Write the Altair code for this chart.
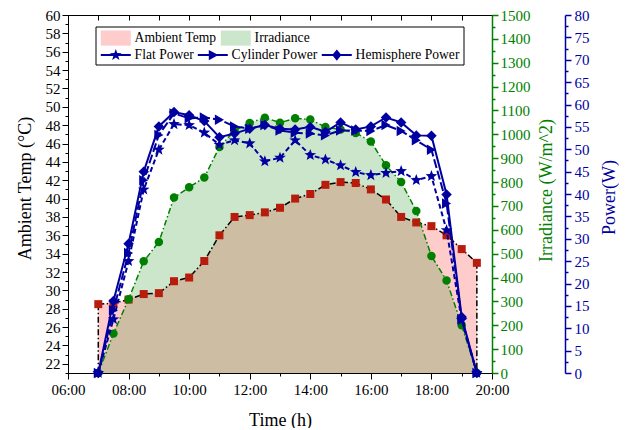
import math
import altair as alt
import pandas as pd

# ---------------- data ----------------
time_h = [7.0, 7.5, 8.0, 8.5, 9.0, 9.5, 10.0, 10.5, 11.0, 11.5, 12.0, 12.5, 13.0,
          13.5, 14.0, 14.5, 15.0, 15.5, 16.0, 16.5, 17.0, 17.5, 18.0, 18.5, 19.0, 19.5]
ambient_temp = [28.5, 28.6, 29.0, 29.6, 29.7, 31.0, 31.4, 33.2, 36.0, 38.0, 38.2, 38.5, 39.0,
                40.0, 40.5, 41.5, 41.8, 41.7, 41.0, 39.9, 38.0, 37.4, 37.0, 36.0, 34.5, 33.0]
irradiance = [0, 165, 309, 468, 549, 735, 778, 819, 947, 1015, 1048, 1070, 1049,
              1067, 1062, 1031, 1020, 1006, 970, 870, 800, 679, 490, 388, 200, 0]
flat_power = [0, 12.0, 25.0, 41.0, 49.9, 55.6, 55.4, 53.7, 51.0, 52.0, 51.3, 47.3, 48.1,
              52.0, 48.7, 47.7, 46.4, 44.9, 44.2, 44.7, 45.1, 43.1, 44.0, 31.9, 11.8, 0]
cylinder_power = [0, 14.0, 26.8, 43.1, 53.2, 58.0, 56.9, 57.1, 56.6, 55.1, 54.6, 55.4, 54.2,
                  53.7, 53.5, 53.1, 54.2, 54.2, 54.1, 55.4, 54.1, 52.0, 49.9, 37.9, 12.0, 0]
hemisphere_power = [0, 16.1, 28.9, 45.0, 55.1, 58.3, 57.6, 56.3, 52.7, 53.5, 54.6, 55.4, 54.6,
                    54.4, 55.0, 53.9, 56.0, 54.4, 55.1, 57.1, 56.0, 53.1, 53.0, 39.9, 12.5, 0]

area_labels = ["Ambient Temp", "Irradiance"]
power_labels = ["Flat Power", "Cylinder Power", "Hemisphere Power"]

x_ticks = list(range(6, 21))
temp_ticks = list(range(21, 61))
irr_ticks = list(range(0, 1501, 50))
power_ticks = [i * 2.5 for i in range(33)]

# ---------------- styles ----------------
FONT = "Liberation Serif"
GREEN = "#008000"
BLUE = "#0000a0"
DRED = "#b71c0c"


def star_path(cx, cy, ro, ri):
    pts = []
    for k in range(10):
        a = math.radians(-90 + 36 * k)
        r = ro if k % 2 == 0 else ri
        pts.append((cx + r * math.cos(a), cy + r * math.sin(a)))
    return "M" + "L".join(f"{x:.3f},{y:.3f}" for x, y in pts) + "Z"


STAR = star_path(0, 0, 1, 0.42)
cx = 2.75
SWATCH = "M-1,-1.9H6.5V1.9H-1Z"
LINE = "M-1,-0.25H6.5V0.25H-1Z"
LEG_FLAT = LINE + star_path(cx, 0, 1.55, 0.62)
LEG_CYL = LINE + f"M{cx-1.0},-1.3L{cx+1.4},0L{cx-1.0},1.3Z"
LEG_HEMI = LINE + f"M{cx},-1.4L{cx+1.15},0L{cx},1.4L{cx-1.15},0Z"

df = pd.DataFrame({
    "t": time_h, "temp": ambient_temp, "irr": irradiance,
    "flat": flat_power, "cyl": cylinder_power, "hemi": hemisphere_power,
})
ends = df.iloc[[0, len(df) - 1]]

xs = alt.Scale(domain=[6, 20], nice=False, zero=False)
temp_scale = alt.Scale(domain=[21, 60], nice=False, zero=False)
irr_scale = alt.Scale(domain=[0, 1500], nice=False)
pow_scale = alt.Scale(domain=[0, 80], nice=False)

major_minor = lambda test: {"condition": {"test": test, "value": 6}, "value": 3}

x_bottom = alt.X("t:Q", scale=xs, axis=alt.Axis(
    orient="bottom", values=x_ticks,
    labelExpr="datum.value % 2 == 0 ? (datum.value < 10 ? '0' : '') + datum.value + ':00' : ''",
    tickSize=major_minor("datum.value % 2 == 0"), tickColor="black", domainColor="black",
    labelColor="black", labelPadding=3, labelOverlap=False, labelFlush=False,
    title="Time (h)", titleColor="black", titleX=212, titleY=47,
    titleAlign="center", titleBaseline="middle"))
x_top = alt.X("t:Q", scale=xs, axis=alt.Axis(
    orient="top", values=x_ticks, labels=False, tickSize=5, offset=-5, domain=False,
    tickColor="black", title=None))
x_none = alt.X("t:Q", scale=xs, axis=None)

temp_axis = alt.Axis(
    orient="left", values=temp_ticks,
    labelExpr="datum.value % 2 == 0 ? datum.label : ''",
    tickSize=major_minor("datum.value % 2 == 0"), tickColor="black", domainColor="black",
    labelColor="black", labelPadding=2, labelOverlap=False, labelFlush=False,
    title="Ambient Temp (°C)", titleColor="black", titleAngle=270,
    titleX=-43, titleY=173, titleAlign="center", titleBaseline="middle")
irr_axis = alt.Axis(
    orient="right", values=irr_ticks,
    labelExpr="datum.value % 100 == 0 ? format(datum.value, 'd') : ''",
    tickSize=major_minor("datum.value % 100 == 0"), tickColor=GREEN, domainColor=GREEN,
    domainWidth=1.5, tickWidth=1.5,
    labelColor=GREEN, labelPadding=2, labelOverlap=False, labelFlush=False,
    title="Irradiance (W/m^2)", titleColor=GREEN, titleAngle=270,
    titleX=54, titleY=175, titleAlign="center", titleBaseline="middle")
pow_axis = alt.Axis(
    orient="right", offset=73, values=power_ticks,
    labelExpr="datum.value % 5 == 0 ? format(datum.value, 'd') : ''",
    tickSize=major_minor("datum.value % 5 == 0"), tickColor=BLUE, domainColor=BLUE,
    domainWidth=1.5, tickWidth=1.5,
    labelColor=BLUE, labelPadding=3, labelOverlap=False, labelFlush=False,
    title="Power(W)", titleColor=BLUE, titleAngle=270,
    titleX=44, titleY=182, titleAlign="center", titleBaseline="middle")

base = alt.Chart(df)

temp_area = base.mark_area(color="red", fillOpacity=0.2).encode(
    x=x_bottom, y=alt.Y("temp:Q", scale=temp_scale, axis=temp_axis), y2=alt.datum(21))
irr_area = base.mark_area(color="green", fillOpacity=0.2).encode(
    x=x_top, y=alt.Y("irr:Q", scale=irr_scale, axis=irr_axis))

dashdot = [6, 2.5, 1.5, 2.5]
ty = alt.Y("temp:Q", scale=temp_scale, axis=None)
temp_lines = alt.layer(
    base.mark_line(color="black", strokeWidth=1.5, strokeDash=dashdot).encode(x=x_none, y=ty),
    alt.Chart(ends).mark_rule(color="black", strokeWidth=1.5, strokeDash=dashdot).encode(
        x=x_none, y=ty, y2=alt.datum(21)),
    base.mark_square(color=DRED, size=64, opacity=1).encode(x=x_none, y=ty),
)
iy = alt.Y("irr:Q", scale=irr_scale, axis=None)
irr_lines = alt.layer(
    base.mark_line(color=GREEN, strokeWidth=1.5, strokeDash=dashdot).encode(x=x_none, y=iy),
    base.mark_circle(color=GREEN, size=72, opacity=1).encode(x=x_none, y=iy),
)

# power axis carried by a single (non-nested) layer
pow_axis_layer = base.mark_line(color=BLUE, strokeWidth=2, strokeDash=[5, 3]).encode(
    x=x_none, y=alt.Y("flat:Q", scale=pow_scale, axis=pow_axis))

power_specs = [
    ("flat", STAR, 150, [5, 3]),
    ("cyl", "triangle-right", 110, [9, 3]),
    ("hemi", "diamond", 110, None),
]
pow_layers = []
for col, shp, sz, dash in power_specs[1:]:
    py = alt.Y(f"{col}:Q", scale=pow_scale, axis=None)
    kw = dict(color=BLUE, strokeWidth=2)
    if dash:
        kw["strokeDash"] = dash
    pow_layers.append(base.mark_line(**kw).encode(x=x_none, y=py))
for col, shp, sz, dash in power_specs:
    py = alt.Y(f"{col}:Q", scale=pow_scale, axis=None)
    pow_layers.append(base.mark_point(shape=shp, size=sz, filled=True, color=BLUE, opacity=1)
                      .encode(x=x_none, y=py))
power_rest = alt.layer(*pow_layers)

# ---------------- legend ----------------
legend_frame = alt.Chart(pd.DataFrame({"k": [0]})).mark_rect(
    fill="white", stroke="black", strokeWidth=1).encode(
    x=alt.value(28), x2=alt.value(396), y=alt.value(12), y2=alt.value(50))

common = dict(orient="none", direction="horizontal", title=None, symbolSize=64,
              symbolOpacity=1, symbolStrokeWidth=0, labelFont=FONT, labelFontSize=13.6,
              labelColor="black", labelOffset=23, labelLimit=300, columnPadding=1,
              padding=0)
legend_area = alt.Chart(pd.DataFrame({"a": area_labels})).mark_square(opacity=0).encode(
    x=alt.value(0), y=alt.value(0),
    color=alt.Color("a:N", scale=alt.Scale(domain=area_labels, range=["#ffcccc", "#cce6cc"]),
                    legend=alt.Legend(legendX=30, legendY=16, symbolType=SWATCH, **common)),
)
legend_power = alt.Chart(pd.DataFrame({"b": power_labels})).mark_point(
    filled=True, opacity=0, color=BLUE).encode(
    x=alt.value(0), y=alt.value(0),
    shape=alt.Shape("b:N", scale=alt.Scale(domain=power_labels,
                                           range=[LEG_FLAT, LEG_CYL, LEG_HEMI]),
                    legend=alt.Legend(legendX=30, legendY=33, symbolFillColor=BLUE, **common)),
)

chart = alt.layer(
    temp_area, irr_area, temp_lines, irr_lines, pow_axis_layer, power_rest,
    legend_frame, legend_area, legend_power
).resolve_scale(y="independent").resolve_axis(x="independent", y="independent").properties(
    width=424, height=358,
    autosize=alt.AutoSizeParams(type="none"),
    padding={"left": 60, "top": 7, "right": 127, "bottom": 55},
).configure_view(stroke="black", strokeWidth=1).configure_axis(
    labelFont=FONT, titleFont=FONT, labelFontSize=15, titleFontSize=18,
    titleFontWeight="normal", grid=False,
)

chart.save("out.html", embed_options={"renderer": "svg", "actions": False})
